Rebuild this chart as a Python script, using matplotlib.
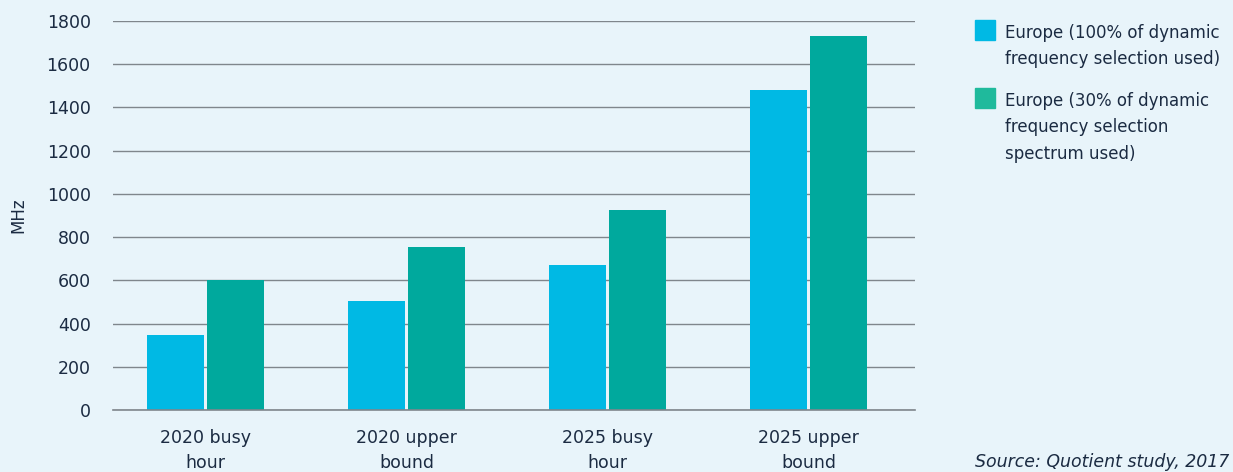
import matplotlib.pyplot as plt
from matplotlib.patches import Rectangle
import numpy as np

# Data
categories = ['2020 busy\nhour', '2020 upper\nbound', '2025 busy\nhour', '2025 upper\nbound']
europe_100 = [345, 505, 670, 1480]   # 100% of DFS used (MHz)
europe_30 = [600, 755, 925, 1730]    # 30% of DFS spectrum used (MHz)
legend_labels = ['Europe (100% of dynamic\nfrequency selection used)',
                 'Europe (30% of dynamic\nfrequency selection\nspectrum used)']
yticks = [0, 200, 400, 600, 800, 1000, 1200, 1400, 1600, 1800]

bg = '#E8F4FA'
blue = '#00B9E4'
green = '#00A99D'
text_col = '#1B2B42'
grid_col = '#7F868C'

plt.rcParams['font.family'] = ['DejaVu Sans']

fig = plt.figure(figsize=(12.33, 4.72), dpi=100, facecolor=bg)
ax = fig.add_axes([0.0916, 0.1314, 0.6505, 0.8241], facecolor=bg)

x = np.arange(len(categories))
w = 0.284
ax.bar(x - 0.149, europe_100, w, color=blue, zorder=3)
ax.bar(x + 0.149, europe_30, w, color=green, zorder=3)

ax.set_ylim(0, 1800)
ax.set_xlim(-0.46, 3.53)
ax.set_yticks(yticks)
ax.set_xticks(x)
ax.set_xticklabels(categories, fontsize=12.5, color=text_col, linespacing=1.5)
ax.tick_params(axis='y', labelsize=12.5, labelcolor=text_col, length=0, pad=16)
ax.tick_params(axis='x', length=0, pad=14)
ax.grid(axis='y', color=grid_col, linewidth=1.0, zorder=0)
ax.axhline(0, color=grid_col, linewidth=1.2, zorder=4, clip_on=False)
for s in ax.spines.values():
    s.set_visible(False)
ax.set_ylabel('MHz', fontsize=12, color=text_col, labelpad=14)

# legend drawn by hand so the squares line up with the first text line
colors = [blue, '#1FBA9C']
tops = [20, 88]
for lab, c, t in zip(legend_labels, colors, tops):
    fig.add_artist(Rectangle((975 / 1233, 1 - (t + 20) / 472), 20 / 1233, 20 / 472,
                             transform=fig.transFigure, color=c))
    fig.text(1005 / 1233, 1 - (t + 4) / 472, lab, fontsize=12, color=text_col,
             va='top', ha='left', linespacing=1.6)

fig.text(975 / 1233, 1 - 462 / 472, 'Source: Quotient study, 2017', fontsize=12.5,
         color=text_col, style='italic', va='center', ha='left')

fig.savefig('out.png', dpi=100, facecolor=bg)
